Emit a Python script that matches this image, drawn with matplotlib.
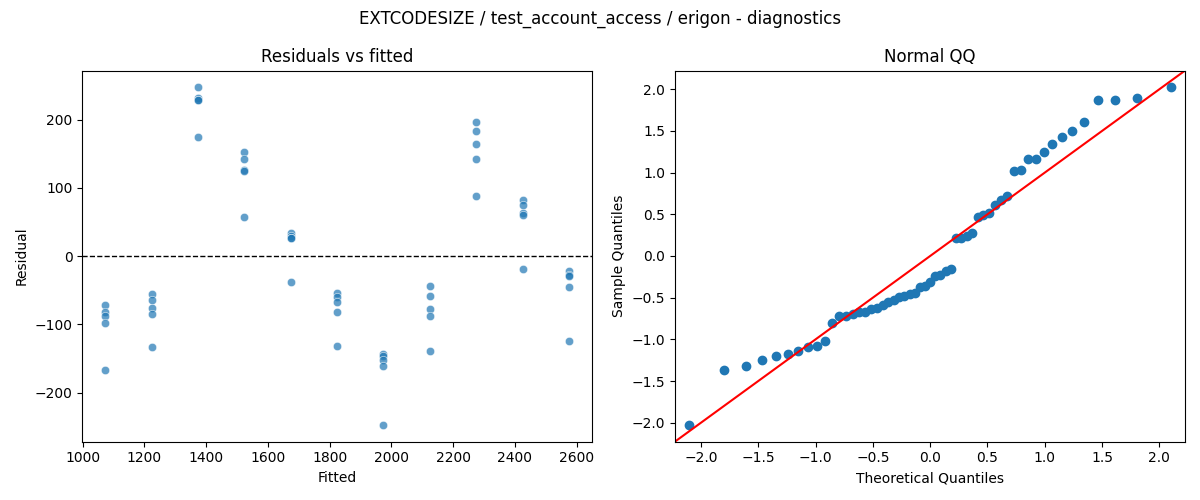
import numpy as np
import matplotlib
matplotlib.use("Agg")
import matplotlib.pyplot as plt
import seaborn as sns
from statistics import NormalDist

# Fitted values (one per group) and residuals per group (5 obs each)
fitted_levels = [1074, 1225, 1375, 1524, 1676, 1825, 1974, 2126, 2275, 2427, 2576]
residual_groups = [
    [-71, -82, -87, -98, -167],
    [-55, -64, -76, -85, -133],
    [247, 232, 229, 228, 175],
    [153, 142, 126, 125, 58],
    [34, 30, 27, 26, -38],
    [-54, -60, -67, -82, -131],
    [-143, -146, -152, -161, -247],
    [-44, -58, -77, -88, -139],
    [196, 183, 164, 142, 88],
    [82, 75, 63, 60, -19],
    [-22, -28, -29, -45, -124],
]

title = "EXTCODESIZE / test_account_access / erigon - diagnostics"

fitted = np.repeat(fitted_levels, [len(g) for g in residual_groups]).astype(float)
resid = np.concatenate([np.array(g, dtype=float) for g in residual_groups])

fig, (ax1, ax2) = plt.subplots(1, 2, figsize=(12, 5), dpi=100)

sns.scatterplot(x=fitted, y=resid, ax=ax1, alpha=0.7)
ax1.axhline(0, color="black", linestyle="--", linewidth=1)
ax1.set_xlabel("Fitted")
ax1.set_ylabel("Residual")
ax1.set_title("Residuals vs fitted")

# Normal QQ of standardized residuals
z = (resid - resid.mean()) / resid.std(ddof=0)
sample_q = np.sort(z)
n = len(sample_q)
nd = NormalDist()
theo_q = np.array([nd.inv_cdf(i / (n + 1)) for i in range(1, n + 1)])
ax2.plot(theo_q, sample_q, marker="o", linestyle="none",
         markerfacecolor="C0", markeredgecolor="C0")
lo, hi = ax2.get_ylim()
ax2.plot([lo, hi], [lo, hi], "r-")
ax2.set_xlim(lo, hi)
ax2.set_ylim(lo, hi)
ax2.set_xlabel("Theoretical Quantiles")
ax2.set_ylabel("Sample Quantiles")
ax2.set_title("Normal QQ")

fig.suptitle(title)
fig.tight_layout()
fig.savefig("out.png")
